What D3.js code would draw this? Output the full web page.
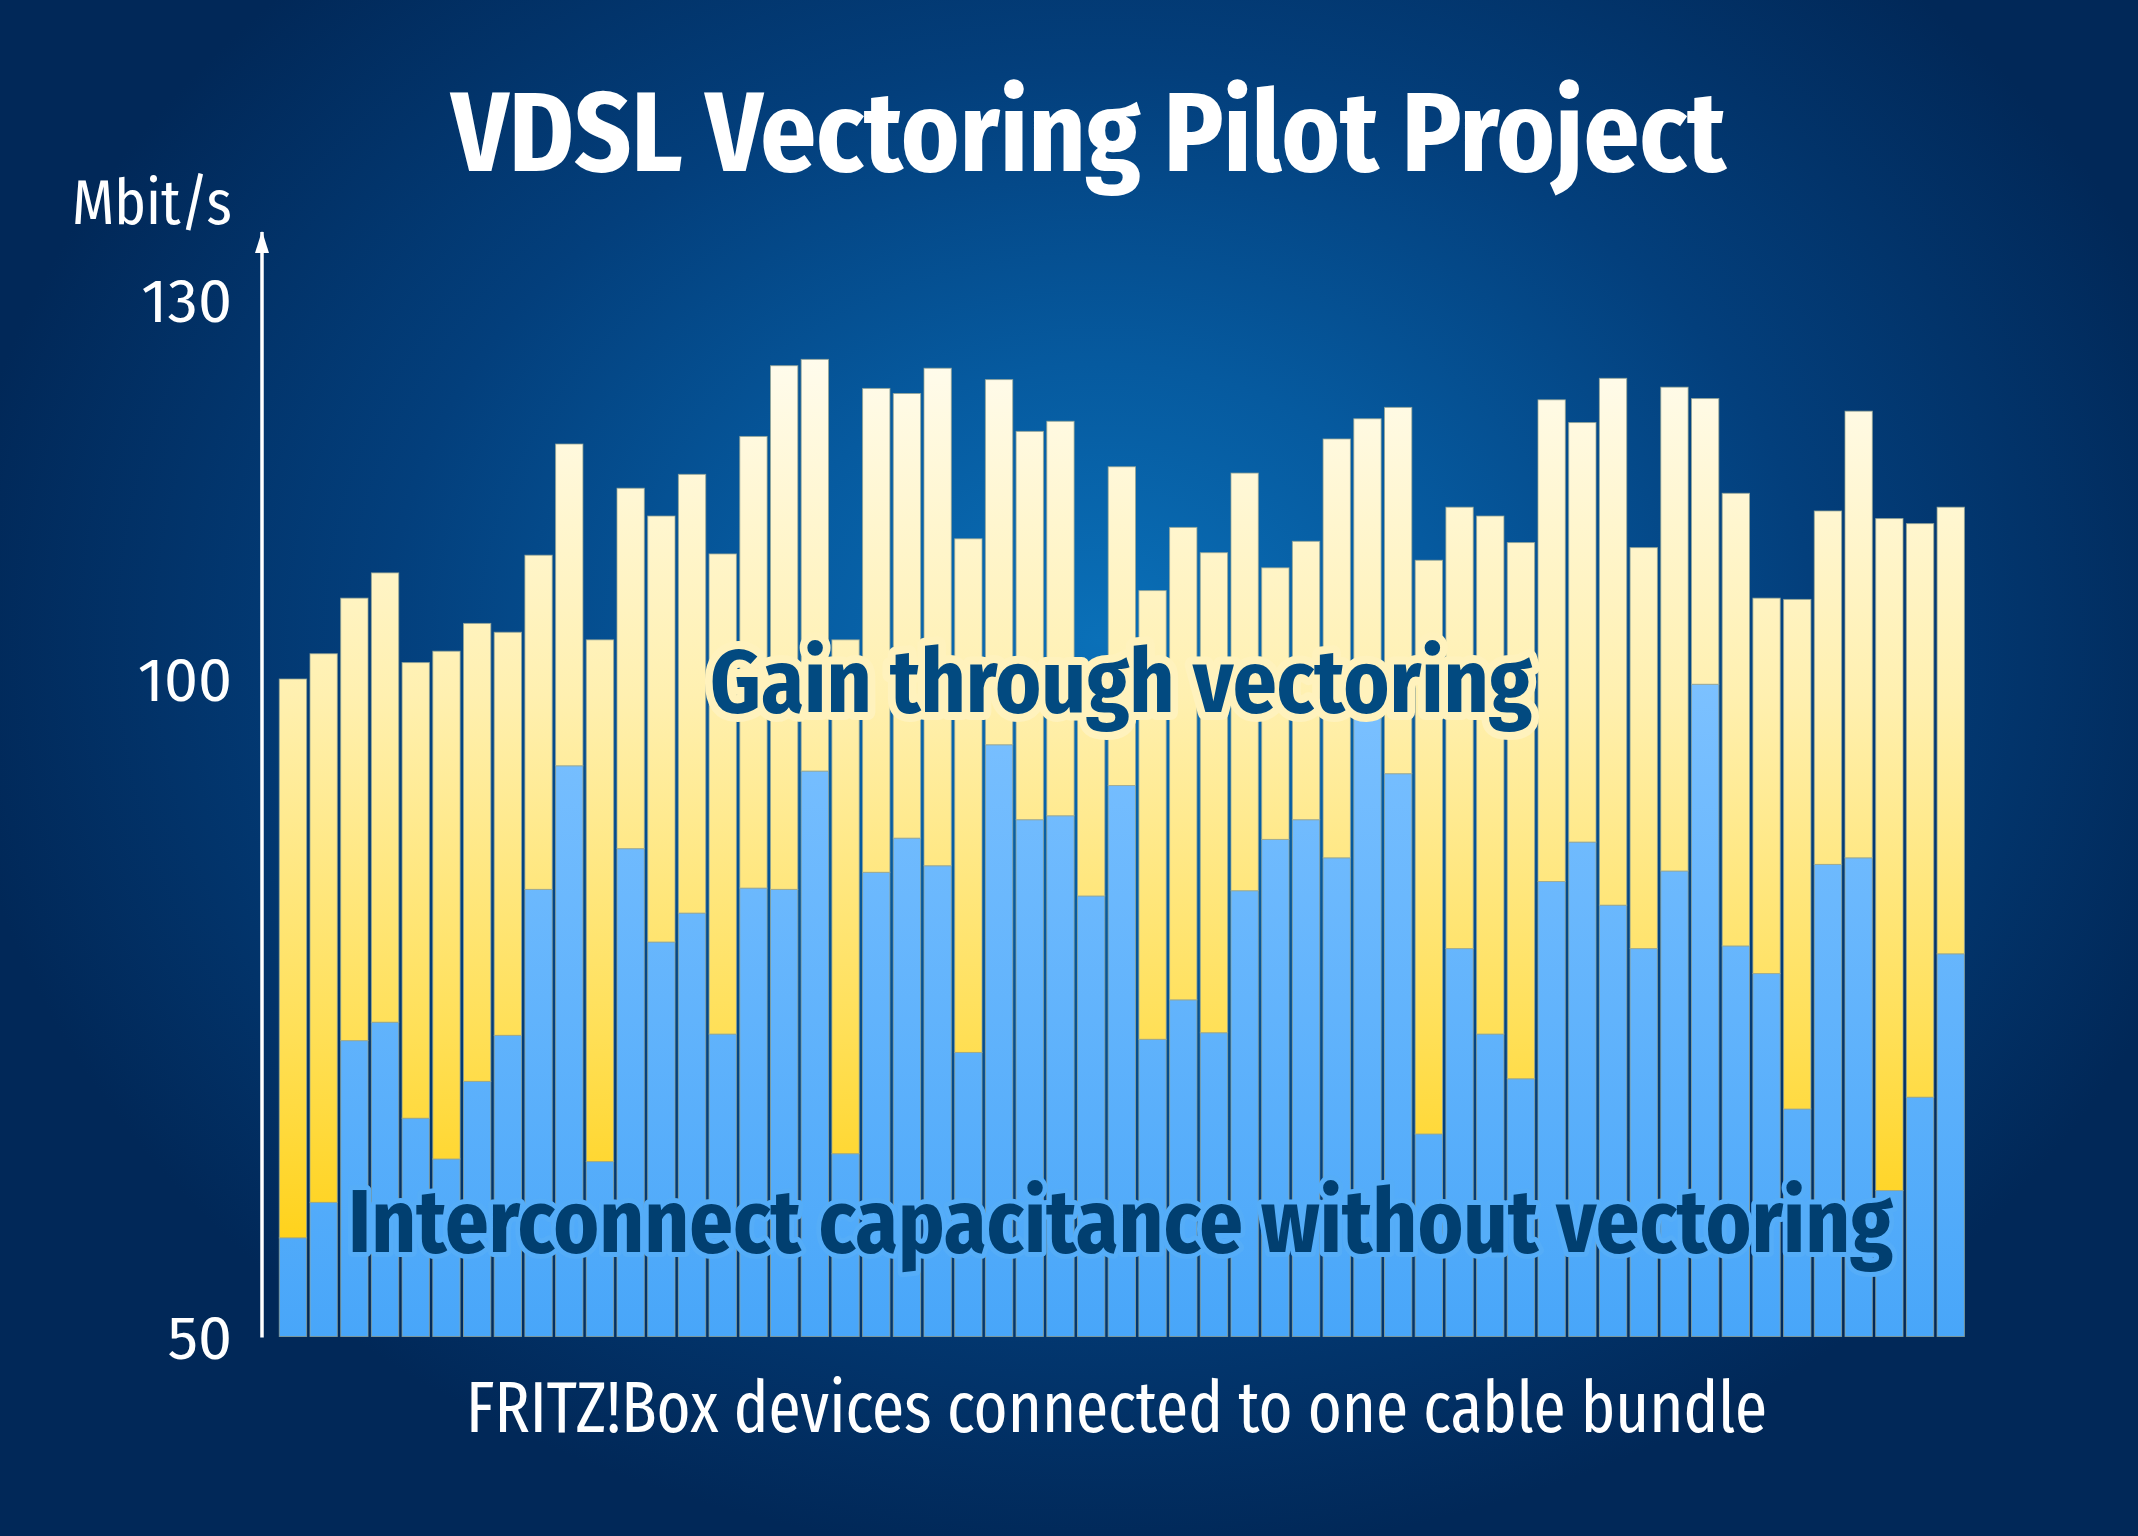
<!DOCTYPE html>
<html>
<head>
<meta charset="utf-8">
<script src="https://cdn.jsdelivr.net/npm/d3@7"></script>
<style>
  html, body { margin: 0; padding: 0; background: #02295a; }
  svg { display: block; }
  text { font-family: "Fira Sans Condensed", "Open Sans", "Lato", "DejaVu Sans", sans-serif; }
</style>
</head>
<body>
<svg id="chart" width="2138" height="1536"></svg>
<script>
// ---------- data ----------
const devices = ["1","2","3","4","5","6","7","8","9","10","11","12","13","14","15","16","17","18","19","20",
  "21","22","23","24","25","26","27","28","29","30","31","32","33","34","35","36","37","38","39","40",
  "41","42","43","44","45","46","47","48","49","50","51","52","53","54","55"];
// Interconnect capacitance without vectoring (Mbit/s)
const withoutVectoring = [57.5,60.2,72.5,73.9,66.6,63.5,69.4,72.9,84.0,93.4,
  63.3,87.1,80.0,82.2,73.0,84.1,84.0,93.0,63.9,85.3,
  87.9,85.8,71.6,95.0,89.3,89.6,83.5,91.9,72.6,75.6,
  73.1,83.9,87.8,89.3,86.4,97.0,92.8,65.4,79.5,73.0,
  69.6,84.6,87.6,82.8,79.5,85.4,99.6,79.7,77.6,67.3,
  85.9,86.4,61.1,68.2,79.1];
// Total rate with vectoring (Mbit/s)
const withVectoring = [100.0,102.0,106.4,108.4,101.3,102.2,104.4,103.7,109.8,118.6,
  103.1,115.1,112.9,116.2,109.9,119.2,124.8,125.3,103.1,123.0,
  122.6,124.6,111.1,123.7,119.6,120.4,99.0,116.8,107.0,112.0,
  110.0,116.3,108.8,110.9,119.0,120.6,121.5,109.4,113.6,112.9,
  110.8,122.1,120.3,123.8,110.4,123.1,122.2,114.7,106.4,106.3,
  113.3,121.2,112.7,112.3,113.6];
const yTicks = [50, 100, 130];
const seriesKeys = ["without", "gain"];

const titleText = "VDSL Vectoring Pilot Project";
const unitText = "Mbit/s";
const xLabelText = "FRITZ!Box devices connected to one cable bundle";
const gainLabel = "Gain through vectoring";
const baseLabel = "Interconnect capacitance without vectoring";

// ---------- setup ----------
const W = 2138, H = 1536;
const svg = d3.select("#chart");
const defs = svg.append("defs");

const bg = defs.append("radialGradient").attr("id", "bg")
  .attr("gradientUnits", "userSpaceOnUse")
  .attr("cx", 1100).attr("cy", 640).attr("r", 1150)
  .attr("gradientTransform", "translate(1100,640) scale(1,0.8) translate(-1100,-640)");
bg.append("stop").attr("offset", "0%").attr("stop-color", "#0a70b8");
bg.append("stop").attr("offset", "30%").attr("stop-color", "#065a9f");
bg.append("stop").attr("offset", "62%").attr("stop-color", "#033f7c");
bg.append("stop").attr("offset", "100%").attr("stop-color", "#012858");

const yellow = defs.append("linearGradient").attr("id", "yellow")
  .attr("gradientUnits", "userSpaceOnUse").attr("x1", 0).attr("x2", 0).attr("y1", 350).attr("y2", 1336);
yellow.append("stop").attr("offset", "0%").attr("stop-color", "#fffcee");
yellow.append("stop").attr("offset", "35%").attr("stop-color", "#fff0b0");
yellow.append("stop").attr("offset", "70%").attr("stop-color", "#ffdf55");
yellow.append("stop").attr("offset", "100%").attr("stop-color", "#ffcc00");

const blue = defs.append("linearGradient").attr("id", "blue")
  .attr("gradientUnits", "userSpaceOnUse").attr("x1", 0).attr("x2", 0).attr("y1", 680).attr("y2", 1336);
blue.append("stop").attr("offset", "0%").attr("stop-color", "#7cc1ff");
blue.append("stop").attr("offset", "100%").attr("stop-color", "#48a6f9");

defs.append("marker").attr("id", "arrow")
  .attr("viewBox", "0 0 14 22").attr("refX", 7).attr("refY", 1)
  .attr("markerWidth", 14).attr("markerHeight", 22).attr("markerUnits", "userSpaceOnUse")
  .attr("orient", "0")
  .append("path").attr("d", "M0,22 L7,0 L14,22 Z").attr("fill", "#ffffff");

svg.append("rect").attr("width", W).attr("height", H).attr("fill", "url(#bg)");

// ---------- scales ----------
const x = d3.scaleBand().domain(devices).range([277.6, 1966.1]).paddingInner(0.11).paddingOuter(0.055);
const y = d3.scaleLinear().domain([50, 100, 130]).range([1336.5, 679, 300]);

const table = devices.map((d, i) => ({
  device: d,
  without: withoutVectoring[i],
  gain: withVectoring[i] - withoutVectoring[i]
}));
const stacked = d3.stack().keys(seriesKeys)(table);
const base = y.domain()[0];

const fills = { without: "url(#blue)", gain: "url(#yellow)" };
svg.append("g").selectAll("g").data(stacked).join("g")
  .attr("fill", s => fills[s.key])
  .selectAll("rect").data(s => s.map(p => ({ p, key: s.key }))).join("rect")
  .attr("x", d => x(d.p.data.device))
  .attr("width", x.bandwidth())
  .attr("y", d => y(d.p[1]))
  .attr("height", d => {
    const lo = d.key === "without" ? base : d.p[0];
    return y(lo) - y(d.p[1]);
  })
  .attr("stroke", "rgba(150,165,150,0.75)")
  .attr("stroke-width", 1);

// ---------- axis ----------
const axis = d3.axisLeft(y).tickValues(yTicks).tickSize(0).tickPadding(30).tickFormat(d3.format("d"));
const gAxis = svg.append("g").attr("transform", "translate(262,0)").call(axis);
gAxis.select(".domain").remove();
gAxis.selectAll("text")
  .attr("fill", "#ffffff")
  .attr("font-size", 61)
  .style("font-family", "\"Fira Sans\", \"Open Sans\", Lato, sans-serif")
  .attr("dy", "0.36em");

svg.append("line")
  .attr("x1", 262).attr("x2", 262)
  .attr("y1", y(base) + 1).attr("y2", 232)
  .attr("stroke", "#ffffff").attr("stroke-width", 3.5)
  .attr("marker-end", "url(#arrow)");

svg.append("text").text(unitText)
  .attr("x", 232).attr("y", 224).attr("text-anchor", "end")
  .attr("fill", "#ffffff").attr("font-size", 62)
  .attr("textLength", 160).attr("lengthAdjust", "spacingAndGlyphs");

// ---------- titles ----------
svg.append("text").text(titleText)
  .attr("x", 451).attr("y", 171)
  .attr("fill", "#ffffff").attr("font-size", 112).attr("font-weight", 700)
  .attr("textLength", 1275).attr("lengthAdjust", "spacingAndGlyphs");

svg.append("text").text(xLabelText)
  .attr("x", 466).attr("y", 1432)
  .attr("fill", "#ffffff").attr("font-size", 72)
  .attr("textLength", 1301).attr("lengthAdjust", "spacingAndGlyphs");

// ---------- in-chart labels ----------
function haloText(txt, x0, yb, len, size, fill, halo, haloW) {
  const g = svg.append("g");
  g.append("text").text(txt)
    .attr("x", x0).attr("y", yb).attr("font-size", size).attr("font-weight", 700)
    .attr("textLength", len).attr("lengthAdjust", "spacingAndGlyphs")
    .attr("fill", halo).attr("stroke", halo).attr("stroke-width", haloW)
    .attr("stroke-linejoin", "round");
  g.append("text").text(txt)
    .attr("x", x0).attr("y", yb).attr("font-size", size).attr("font-weight", 700)
    .attr("textLength", len).attr("lengthAdjust", "spacingAndGlyphs")
    .attr("fill", fill);
}
haloText(gainLabel, 710, 712, 822, 90, "#024a80", "#fff2bd", 16);
haloText(baseLabel, 348, 1252, 1545, 90, "#013f70", "#55adf8", 10);
</script>
</body>
</html>
